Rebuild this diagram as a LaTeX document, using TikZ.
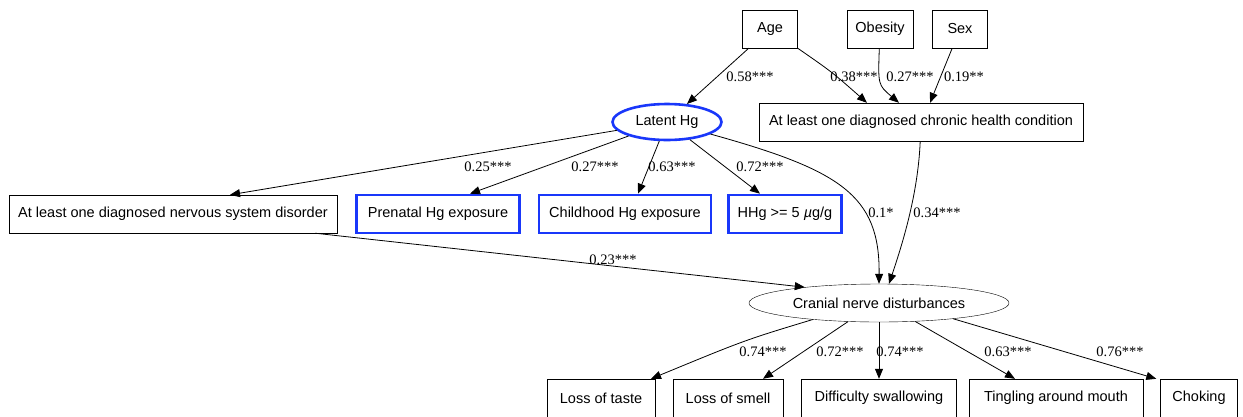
\documentclass[tikz,border=0pt]{standalone}
\usepackage{fontspec}
\setmainfont{Liberation Serif}
\setsansfont{Liberation Sans}
\usetikzlibrary{arrows.meta,shapes.geometric}
\definecolor{hgblue}{RGB}{25,55,250}

\begin{document}
\begin{tikzpicture}[x=1pt,y=-1pt]
\tikzstyle{var}=[draw, rectangle, font=\sffamily\fontsize{14.5}{17}\selectfont, minimum height=38pt, inner xsep=8pt]
\tikzstyle{hg}=[var, draw=hgblue, line width=2.6pt]
\tikzstyle{lat}=[draw, ellipse, font=\sffamily\fontsize{14.5}{17}\selectfont, minimum height=36pt, inner xsep=1pt]
\tikzstyle{link}=[-{Triangle[length=10pt,width=8pt]}, line width=0.8pt]
\tikzstyle{est}=[font=\fontsize{14.5}{16}\selectfont, inner sep=1pt]
\useasboundingbox (0,0) rectangle (1243,416);

% exogenous covariates
\node[var, minimum width=55pt] (Age) at (770,29) {Age};
\node[var, minimum width=66pt] (Obesity) at (880,29) {Obesity};
\node[var, minimum width=55pt] (Sex) at (960,29) {Sex};

% latent mercury and its indicators
\node[lat, draw=hgblue, line width=2.6pt, minimum width=109pt] (Latent) at (667,122) {Latent Hg};
\node[var, minimum width=324pt] (Chronic) at (921,122) {At least one diagnosed chronic health condition};
\node[var, minimum width=328pt] (Nervous) at (173,214) {At least one diagnosed nervous system disorder};
\node[hg, minimum width=163pt] (Prenatal) at (438,214) {Prenatal Hg exposure};
\node[hg, minimum width=172pt] (Childhood) at (625,214) {Childhood Hg exposure};
\node[hg, minimum width=113pt] (HHg) at (785,214) {HHg >= 5 \textit{µ}g/g};

% outcome
\node[lat, minimum width=260pt, minimum height=38pt] (Cranial) at (879,303) {Cranial nerve disturbances};
\node[var, minimum width=108pt] (Taste) at (601,398) {Loss of taste};
\node[var, minimum width=110pt] (Smell) at (728,398) {Loss of smell};
\node[var, minimum width=155pt] (Swallow) at (879,398) {Difficulty swallowing};
\node[var, minimum width=174pt] (Tingle) at (1056,398) {Tingling around mouth};
\node[var, minimum width=77pt] (Choke) at (1199,398) {Choking};

% paths
\draw[link] (Age) -- (Latent) node[est] at (750,77) {0.58***};
\draw[link] (Age) .. controls (832,72) .. ([xshift=-54pt]Chronic.north) node[est] at (854,77) {0.38***};
\draw[link] (Obesity) .. controls (878,85) .. ([xshift=-22pt]Chronic.north) node[est] at (910,77) {0.27***};
\draw[link] (Sex) -- ([xshift=9pt]Chronic.north) node[est] at (964,77) {0.19**};

\draw[link] (Latent) -- ([xshift=57pt]Nervous.north) node[est] at (488,167) {0.25***};
\draw[link] (Latent) -- ([xshift=32pt]Prenatal.north) node[est] at (595,167) {0.27***};
\draw[link] (Latent) -- ([xshift=13pt]Childhood.north) node[est] at (672,167) {0.63***};
\draw[link] (Latent) -- ([xshift=-25pt]HHg.north) node[est] at (760,167) {0.72***};
\draw[link] (Latent) .. controls (840,170) and (880,195) .. (Cranial.north) node[est] at (881,213) {0.1*};
\draw[link] (Chronic) .. controls (918,195) and (902,245) .. ([xshift=10pt]Cranial.north) node[est] at (937,213) {0.34***};
\draw[link] ([xshift=142pt]Nervous.south) -- (Cranial.168) node[est] at (613,260) {0.23***};

\draw[link] (Cranial.194) .. controls (745,340) .. ([xshift=50pt]Taste.north) node[est] at (763,352) {0.74***};
\draw[link] (Cranial.211) -- ([xshift=35pt]Smell.north) node[est] at (840,352) {0.72***};
\draw[link] (Cranial.270) -- (Swallow.north) node[est] at (900,352) {0.74***};
\draw[link] (Cranial.333) -- ([xshift=-41pt]Tingle.north) node[est] at (1008,352) {0.63***};
\draw[link] (Cranial.348) -- ([xshift=-4pt]Choke.north west) node[est] at (1120,352) {0.76***};
\end{tikzpicture}
\end{document}
